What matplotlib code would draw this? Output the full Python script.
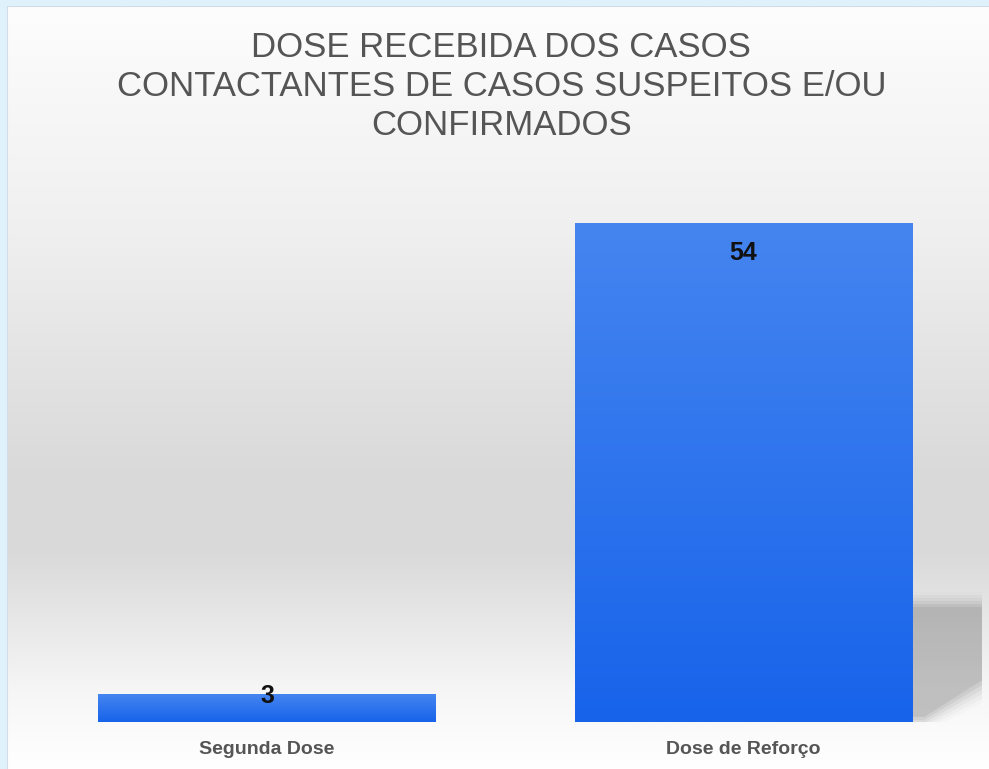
import numpy as np
import matplotlib
matplotlib.use("Agg")
import matplotlib.pyplot as plt
from matplotlib.colors import LinearSegmentedColormap
from matplotlib.patches import Polygon

categories = ["Segunda Dose", "Dose de Reforço"]
values = [3, 54]
title = "DOSE RECEBIDA DOS CASOS\nCONTACTANTES DE CASOS SUSPEITOS E/OU\nCONFIRMADOS"

W, H = 989, 769
fig = plt.figure(figsize=(W / 100, H / 100), dpi=100)
fig.patch.set_facecolor("#dff1fb")
plt.rcParams["font.family"] = ["Liberation Sans", "DejaVu Sans"]

# background panel with vertical gradient
bg = fig.add_axes([7 / W, 0, 1 - 7 / W, 1 - 6 / H])
bg_cmap = LinearSegmentedColormap.from_list(
    "bg",
    [(0.0, "#fdfdfd"), (0.30, "#efefef"), (0.62, "#d9d9d9"),
     (0.72, "#dadada"), (0.90, "#f6f6f6"), (1.0, "#ffffff")])
grad = np.linspace(0, 1, 512).reshape(-1, 1)
bg.imshow(grad, aspect="auto", cmap=bg_cmap, extent=[0, 1, 0, 1], origin="upper")
bg.set_axis_off()
bg.plot([0, 0], [0, 1], color="#d0dde5", lw=1.5, transform=bg.transAxes)
bg.plot([0, 1], [1, 1], color="#d0dde5", lw=1.5, transform=bg.transAxes)

fig.text(0.507, 1 - 31 / H, title, ha="center", va="top", color="#555555",
         fontsize=25, linespacing=1.24)

# main axes
px_per_unit_x = 476.5
left_px = 267 - 0.5 * px_per_unit_x
right_px = 743.5 + 0.5 * px_per_unit_x
bottom_px = 722
ymax = 60
px_per_val = 499 / 54
top_px = bottom_px - ymax * px_per_val
ax = fig.add_axes([left_px / W, 1 - bottom_px / H,
                   (right_px - left_px) / W, (bottom_px - top_px) / H])
ax.set_xlim(-0.5, 1.5)
ax.set_ylim(0, ymax)
ax.patch.set_alpha(0)
for s in ax.spines.values():
    s.set_visible(False)

x = np.arange(len(categories))
bw = 0.709
bars = ax.bar(x, values, width=bw, color="#2f75ec", zorder=3)

# shadow to the right of tallest bar
imax = int(np.argmax(values))
b = bars[imax]
x1 = b.get_x() + b.get_width()
xr = x1 + 70 / px_per_unit_x
ys_top = 115 / px_per_val
ys_mid = 42 / px_per_val
ys_bot = 5 / px_per_val
for k, a in enumerate(np.linspace(0.10, 0.02, 6)):
    d = k * 3 / px_per_unit_x
    dy = k * 3 / px_per_val
    poly = Polygon([(x1, ys_top + dy), (xr + d, ys_top + dy), (xr + d, ys_mid - dy),
                    (x1 + 12 / px_per_unit_x, ys_bot - dy), (x1, ys_bot - dy)],
                   closed=True, facecolor="#505050", alpha=a, edgecolor="none", zorder=2)
    ax.add_patch(poly)

# gradient fill for bars
bar_cmap = LinearSegmentedColormap.from_list("bar", ["#1763ea", "#4585f0"])
for rect in bars:
    gx0, gy0 = rect.get_x(), rect.get_y()
    gw, gh = rect.get_width(), rect.get_height()
    im = ax.imshow(np.linspace(0, 1, 256).reshape(-1, 1), cmap=bar_cmap,
                   extent=[gx0, gx0 + gw, gy0, gy0 + gh], origin="lower",
                   aspect="auto", zorder=4)
    im.set_clip_path(rect)
ax.set_xlim(-0.5, 1.5)
ax.set_ylim(0, ymax)

# value labels
for rect, v in zip(bars, values):
    hpx = v * px_per_val
    cx = rect.get_x() + rect.get_width() / 2
    if hpx > 60:
        ax.annotate(str(v), (cx, v), xytext=(0, -13), textcoords="offset points",
                    ha="center", va="top", fontsize=18, fontweight="bold",
                    color="#111111", zorder=6)
    else:
        ax.annotate(str(v), (cx, v), xytext=(0, -1.5), textcoords="offset points",
                    ha="center", va="center", fontsize=18, fontweight="bold",
                    color="#111111", zorder=6)

ax.set_yticks([])
ax.set_xticks(x)
ax.set_xticklabels(categories, fontsize=14, fontweight="bold", color="#555555")
ax.tick_params(axis="x", length=0, pad=14)

fig.savefig("out.png", dpi=100, facecolor=fig.get_facecolor())
